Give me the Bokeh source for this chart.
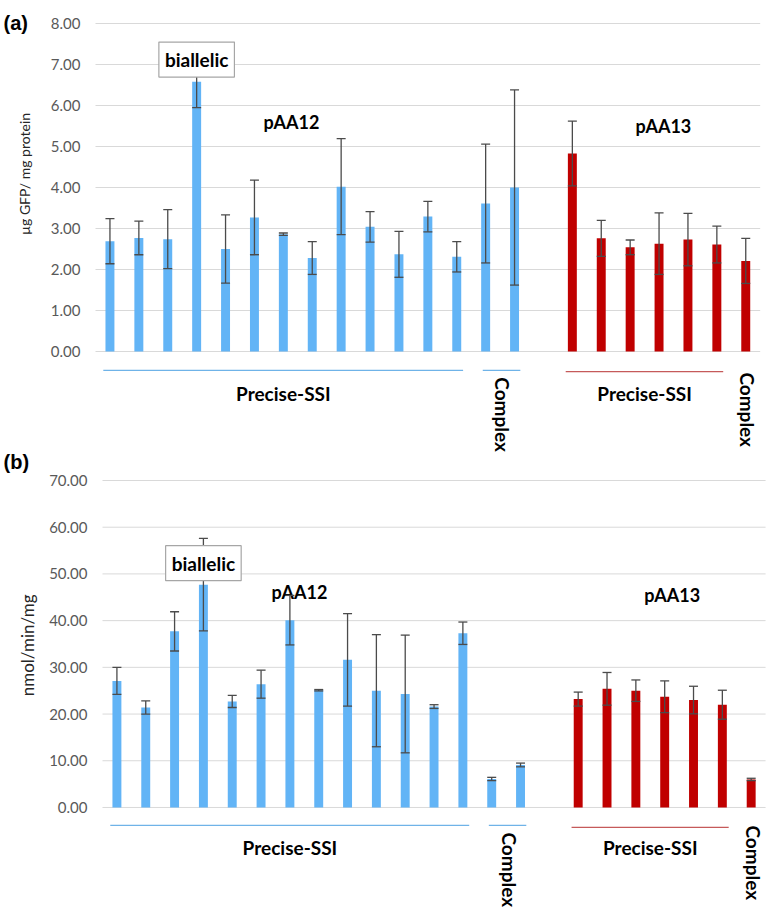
import math
from bokeh.plotting import figure
from bokeh.layouts import column
from bokeh.models import Range1d, ColumnDataSource, Whisker, TeeHead, Label
from bokeh.core.properties import value
from bokeh.embed import file_html
from bokeh.resources import INLINE

# ---------------- data ----------------
# slots: pAA12 strains occupy 0..14 (13 precise + 2 complex), pAA13 occupy 16..22 (6 precise + 1 complex)
pAA12_slots = list(range(0, 15))
pAA13_slots = list(range(16, 23))

# (a) GFP content, µg GFP / mg protein
pAA12_gfp = [2.69, 2.77, 2.74, 6.58, 2.50, 3.27, 2.86, 2.28, 4.02, 3.04, 2.37, 3.29, 2.31, 3.61, 4.00]
pAA12_gfp_err = [0.55, 0.41, 0.72, 0.63, 0.83, 0.91, 0.03, 0.40, 1.17, 0.37, 0.56, 0.37, 0.37, 1.45, 2.38]
pAA13_gfp = [4.83, 2.76, 2.54, 2.63, 2.73, 2.61, 2.21]
pAA13_gfp_err = [0.79, 0.44, 0.18, 0.75, 0.64, 0.45, 0.55]

# (b) activity, nmol/min/mg
pAA12_act = [27.1, 21.4, 37.7, 47.7, 22.7, 26.4, 40.1, 25.1, 31.6, 25.0, 24.3, 21.6, 37.3, 6.1, 9.1]
pAA12_act_err = [2.9, 1.4, 4.2, 9.9, 1.3, 3.0, 5.3, 0.15, 9.9, 12.0, 12.6, 0.4, 2.4, 0.35, 0.4]
pAA13_act = [23.2, 25.4, 25.0, 23.7, 23.0, 22.0, 6.0]
pAA13_act_err = [1.5, 3.5, 2.3, 3.4, 2.95, 3.1, 0.25]

ticks_a = [0, 1, 2, 3, 4, 5, 6, 7, 8]
ticks_b = [0, 10, 20, 30, 40, 50, 60, 70]
tick_labels_a = ["%.2f" % t for t in ticks_a]
tick_labels_b = ["%.2f" % t for t in ticks_b]

# group brackets: (label, first slot, last slot, plasmid)
groups = [("Precise-SSI", 0, 12, "pAA12"), ("Complex", 13, 14, "pAA12"),
          ("Precise-SSI", 16, 21, "pAA13"), ("Complex", 22, 22, "pAA13")]
biallelic_slot = 3

BLUE = "#62B4F6"
RED = "#C00000"
ERR = "#4B4B4B"
LINE_BLUE = "#6FB3E8"
LINE_RED = "#C55A5A"
FONT = "Lato"


def panel(vals12, err12, vals13, err13, ticks, tick_labels, cfg):
    slot = cfg["slot"]      # px per x unit
    ppu = cfg["ppu"]        # px per y unit
    left_px = cfg["left"]   # px from figure left to x=-0.5
    top_px = cfg["top"]     # px from figure top to y=max tick
    W, H = 767, cfg["H"]
    x0 = -0.5 - left_px / slot
    x1 = x0 + W / slot
    y1 = ticks[-1] + top_px / ppu
    y0 = y1 - H / ppu
    p = figure(output_backend="svg", toolbar_location=None,
               frame_width=W, frame_height=H,
               min_border_left=0, min_border_right=0, min_border_top=0, min_border_bottom=0,
               x_range=Range1d(x0, x1), y_range=Range1d(y0, y1),
               x_axis_location=None, y_axis_location=None)
    p.outline_line_color = None
    p.background_fill_color = "white"
    p.border_fill_color = "white"
    p.xgrid.visible = False
    p.ygrid.visible = False

    # gridlines and tick labels
    p.segment(x0=[-0.5] * len(ticks), y0=ticks, x1=[22.5] * len(ticks), y1=ticks,
              line_color="#D9D9D9", line_width=1)
    p.text(x=[-0.5 - 15 / slot] * len(ticks), y=ticks, text=tick_labels,
           text_font=value(FONT), text_font_size="15px", text_color="#595959",
           text_align="right", text_baseline="middle")

    bw = 0.31
    p.vbar(x=pAA12_slots, top=vals12, width=bw, fill_color=BLUE, line_color=None)
    p.vbar(x=pAA13_slots, top=vals13, width=bw, fill_color=RED, line_color=None)

    xs = pAA12_slots + pAA13_slots
    vs = vals12 + vals13
    es = err12 + err13
    src = ColumnDataSource(dict(x=xs, upper=[v + e for v, e in zip(vs, es)],
                                lower=[v - e for v, e in zip(vs, es)]))
    w = Whisker(base="x", upper="upper", lower="lower", source=src,
                line_color=ERR, line_width=1.3, level="annotation",
                upper_head=TeeHead(size=9, line_color=ERR, line_width=1.3),
                lower_head=TeeHead(size=9, line_color=ERR, line_width=1.3))
    p.add_layout(w)

    # group brackets and labels
    for name, first, last, plas in groups:
        col = LINE_BLUE if plas == "pAA12" else LINE_RED
        if name == "Precise-SSI":
            ly = cfg["line_y"][plas]
            p.segment(x0=[first - 0.23], y0=[ly], x1=[last + 0.22], y1=[ly],
                      line_color=col, line_width=1.2)
            p.text(x=[(first + last) / 2], y=[cfg["text_y"]], text=[name],
                   text_font=value(FONT), text_font_style="bold", text_font_size="19px",
                   text_color="black", text_align="center", text_baseline="middle")
        else:
            if plas == "pAA12":
                ly = cfg["line_y"][plas]
                p.segment(x0=[first - 0.1], y0=[ly], x1=[last + 0.2], y1=[ly],
                          line_color=col, line_width=1.2)
                cx = (first + last) / 2 + 0.1
            else:
                cx = last + 0.07
            p.text(x=[cx], y=[cfg["cplx_y"][plas]], text=[name], angle=-math.pi / 2,
                   text_font=value(FONT), text_font_style="bold", text_font_size="19px",
                   text_color="black", text_align="left", text_baseline="middle")

    for lab, (lx, ly) in cfg["plas_lab"].items():
        p.text(x=[lx], y=[ly], text=[lab], text_font=value(FONT), text_font_style="bold",
               text_font_size="18px", text_color="black",
               text_align="center", text_baseline="middle")

    p.add_layout(Label(x=biallelic_slot, y=cfg["bi_y"], text="biallelic", text_font=FONT,
                       text_font_style="bold", text_font_size="19px", text_color="black",
                       text_align="center", text_baseline="middle",
                       background_fill_color="white", border_line_color="#A6A6A6",
                       border_line_width=1.2, padding=6, level="overlay"))

    # y-axis title and panel tag
    p.text(x=[-0.5 - cfg["ytitle_px"] / slot], y=[cfg["ytitle_y"]], text=[cfg["ytitle"]],
           angle=math.pi / 2, text_font=value(FONT), text_font_size=cfg["ytitle_size"],
           text_color="#262626", text_align="center", text_baseline="middle")
    p.text(x=[x0 + 3 / slot], y=[cfg["tag_y"]], text=[cfg["tag"]],
           text_font=value("Liberation Sans"), text_font_style="bold",
           text_font_size="20px", text_color="black",
           text_align="left", text_baseline="middle")
    return p


cfg_a = dict(H=452, slot=28.9, ppu=41.0, left=95, top=23,
             line_y={"pAA12": -0.46, "pAA13": -0.49}, text_y=-1.02,
             cplx_y={"pAA12": -0.63, "pAA13": -0.51},
             plas_lab={"pAA12": (6.28, 5.59), "pAA13": (19.15, 5.49)},
             bi_y=7.12, ytitle="µg GFP/ mg protein", ytitle_px=71, ytitle_y=4.33,
             ytitle_size="14px", tag="(a)", tag_y=8.02)
cfg_b = dict(H=457, slot=28.83, ppu=4.671, left=102, top=28,
             line_y={"pAA12": -3.85, "pAA13": -4.28}, text_y=-8.56,
             cplx_y={"pAA12": -5.35, "pAA13": -3.85},
             plas_lab={"pAA12": (6.33, 46.2), "pAA13": (19.26, 45.4)},
             bi_y=52.3, ytitle="nmol/min/mg", ytitle_px=75, ytitle_y=34.7,
             ytitle_size="17px", tag="(b)", tag_y=73.9)

pa = panel(pAA12_gfp, pAA12_gfp_err, pAA13_gfp, pAA13_gfp_err, ticks_a, tick_labels_a, cfg_a)
pb = panel(pAA12_act, pAA12_act_err, pAA13_act, pAA13_act_err, ticks_b, tick_labels_b, cfg_b)

layout = column(pa, pb)
open("out.html", "w").write(file_html(layout, INLINE))
